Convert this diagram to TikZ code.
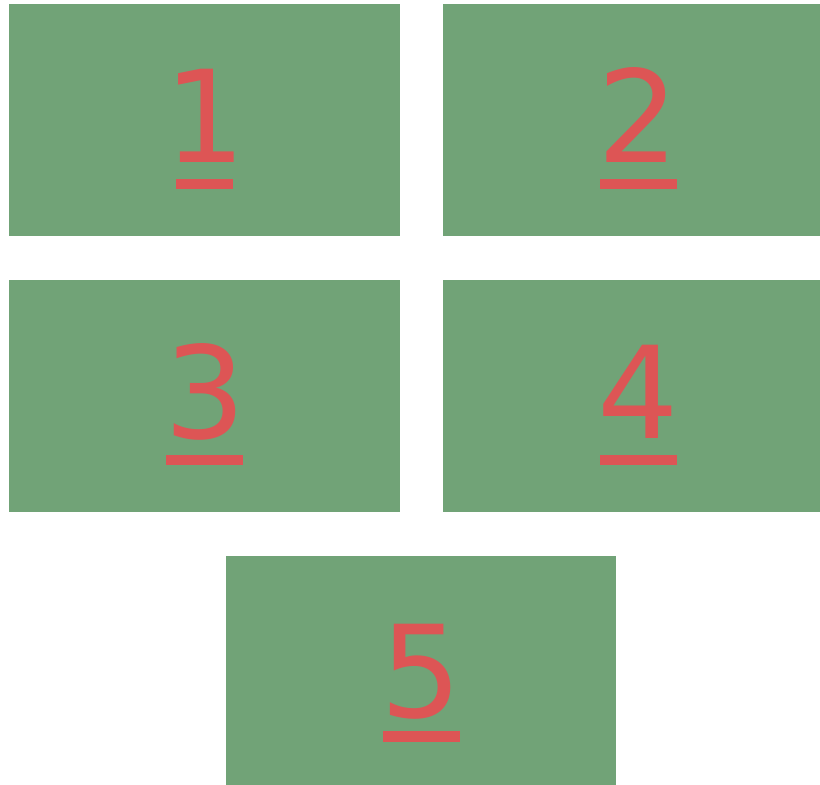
\documentclass[tikz,border=0pt]{standalone}
\usepackage{fontspec}
\setmainfont{DejaVu Sans}
\definecolor{boxgreen}{RGB}{113,163,119}
\definecolor{digitred}{RGB}{221,85,85}
\begin{document}
\begin{tikzpicture}[x=1pt,y=-1pt,
  panel/.style={fill=boxgreen,draw=none},
  digit/.style={text=digitred,anchor=base,inner sep=0pt,font=\fontsize{128}{128}\selectfont},
  uline/.style={fill=digitred,draw=none}]
\useasboundingbox[fill=white] (0,0) rectangle (820,785);
\fill[panel] (9,4) rectangle (400,236);
\fill[panel] (443,4) rectangle (820,236);
\fill[panel] (9,280) rectangle (400,512);
\fill[panel] (443,280) rectangle (820,512);
\fill[panel] (226,556) rectangle (616,785);
\node[digit] (d1) at (205,162) {1};
\node[digit] (d2) at (638,162) {2};
\node[digit] (d3) at (205,438) {3};
\node[digit] (d4) at (638,438) {4};
\node[digit] (d5) at (421,717) {5};
\fill[uline] (176,179) rectangle (233,189);
\fill[uline] (600,179) rectangle (677,189);
\fill[uline] (166,455) rectangle (243,465);
\fill[uline] (600,455) rectangle (677,465);
\fill[uline] (383,731) rectangle (460,742);
\end{tikzpicture}
\end{document}
